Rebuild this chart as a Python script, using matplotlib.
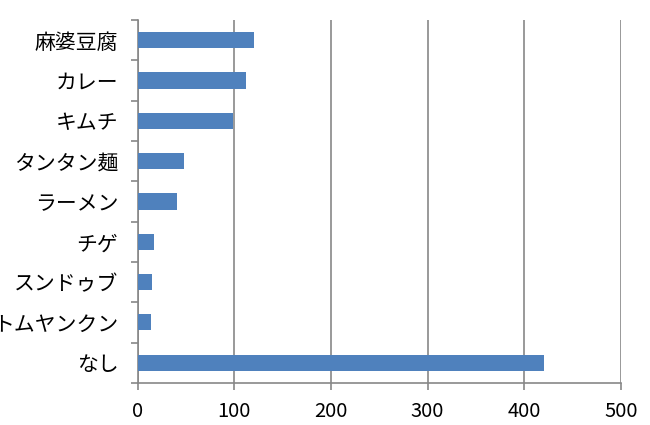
import matplotlib
matplotlib.use('Agg')
import matplotlib.pyplot as plt
import numpy as np

plt.rcParams['font.family'] = ['Noto Sans CJK JP', 'DejaVu Sans']

categories = ['麻婆豆腐', 'カレー', 'キムチ', 'タンタン麺', 'ラーメン',
              'チゲ', 'スンドゥブ', 'トムヤンクン', 'なし']
values = [120, 112, 99, 48, 41, 17, 15, 14, 421]
x_ticks = [0, 100, 200, 300, 400, 500]

grey = '#878787'

fig = plt.figure(figsize=(6.5, 4.25), dpi=100)
ax = fig.add_axes([0.212, 0.099, 0.743, 0.854])

pos = np.arange(len(categories))[::-1]
ax.barh(pos, values, height=0.4, color='#4F81BD', zorder=3)

ax.set_xlim(0, 500)
ax.set_ylim(-0.5, len(categories) - 0.5)
ax.set_xticks(x_ticks)
ax.set_xticklabels([str(t) for t in x_ticks], fontsize=14.5)
ax.xaxis.grid(True, color=grey, linewidth=1.2, zorder=0)

# category labels sit between boundary ticks
ax.set_yticks(pos)
ax.set_yticklabels(categories, fontsize=15)
ax.set_yticks(np.arange(-0.5, len(categories)), minor=True)
ax.tick_params(axis='y', which='major', length=0, pad=14)
ax.tick_params(axis='y', which='minor', length=5, color=grey, width=1.2, direction='out')
ax.tick_params(axis='x', length=5, color=grey, width=1.2, direction='out', pad=8)

for s in ['top', 'right']:
    ax.spines[s].set_visible(False)
for s in ['left', 'bottom']:
    ax.spines[s].set_color(grey)
    ax.spines[s].set_linewidth(1.2)

fig.savefig('out.png', dpi=100)
